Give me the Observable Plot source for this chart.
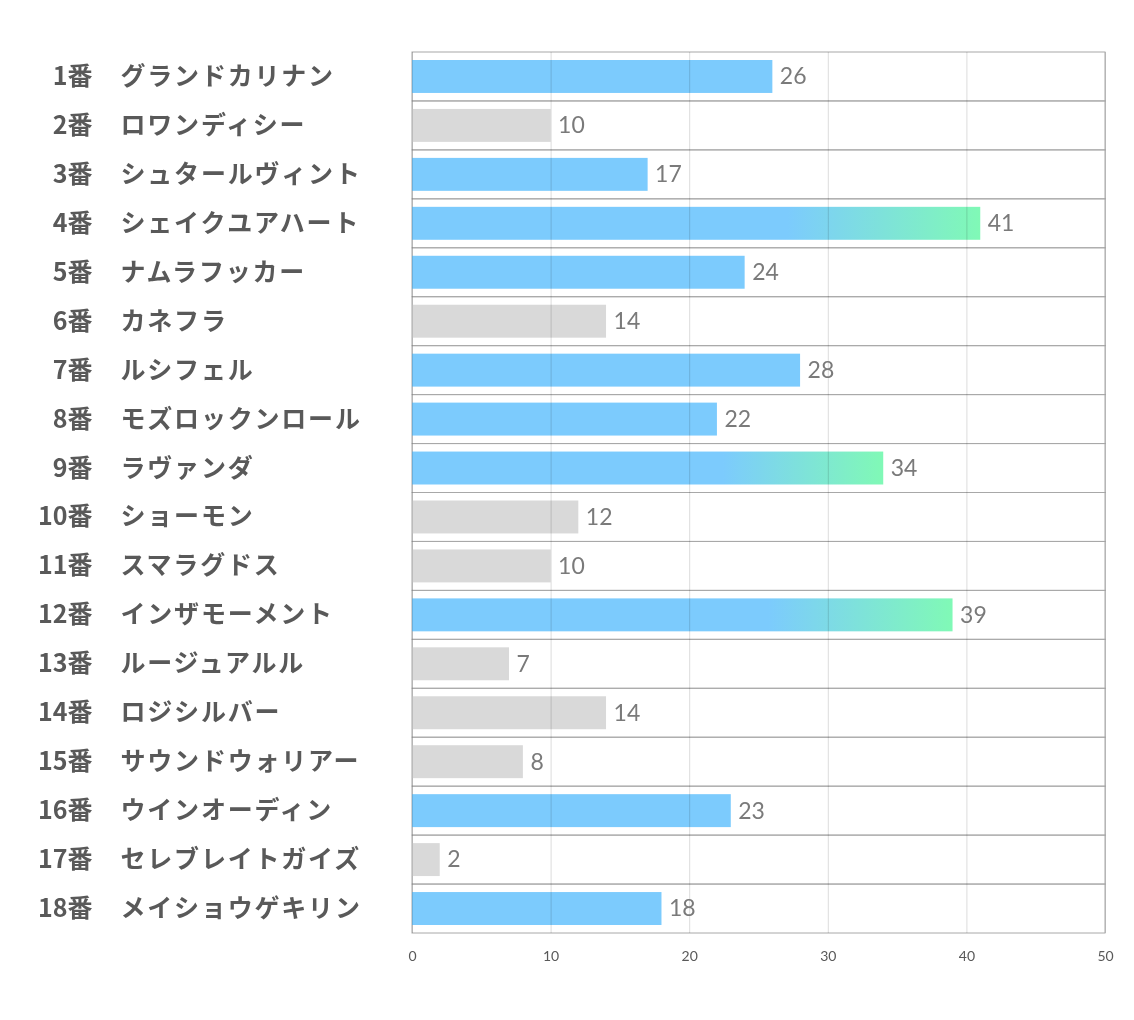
<!DOCTYPE html>
<html><head><meta charset="utf-8">
<script src="https://cdn.jsdelivr.net/npm/d3@7"></script>
<script src="https://cdn.jsdelivr.net/npm/@observablehq/plot@0.6"></script>
<style>body{margin:0;background:#fff}</style>
</head><body><div id="chart"></div>
<script>
const numbers = ["1番","2番","3番","4番","5番","6番","7番","8番","9番","10番","11番","12番","13番","14番","15番","16番","17番","18番"];
const names = ["グランドカリナン","ロワンディシー","シュタールヴィント","シェイクユアハート","ナムラフッカー","カネフラ","ルシフェル","モズロックンロール","ラヴァンダ","ショーモン","スマラグドス","インザモーメント","ルージュアルル","ロジシルバー","サウンドウォリアー","ウインオーディン","セレブレイトガイズ","メイショウゲキリン"];
const values = [26,10,17,41,24,14,28,22,34,12,10,39,7,14,8,23,2,18];
const xTicks = [0,10,20,30,40,50];

const sorted = [...values].sort((a,b)=>b-a);
const data = names.map((name,i)=>{
  const r = sorted.indexOf(values[i]);
  return {num:numbers[i], name, label:numbers[i]+" "+name, value:values[i], group: r<3?"top":r<10?"mid":"low"};
});
const jp = "'Noto Sans CJK JP', sans-serif";
const lat = "Lato, sans-serif";

const chart = Plot.plot({
  width:1134, height:1020,
  marginLeft:412, marginRight:29, marginTop:52, marginBottom:87,
  style:{fontFamily:lat, background:"#fff"},
  x:{domain:[0,50], axis:null},
  y:{domain:data.map(d=>d.label), padding:0, round:false, axis:null},
  marks:[
    Plot.barX(data,{x1:0,x2:50,y:"label",fill:"none",stroke:"#a8a8a8"}),
    Plot.barX(data.filter(d=>d.group==="low"),{x:"value",y:"label",fill:"#d9d9d9",insetTop:8,insetBottom:8}),
    Plot.barX(data.filter(d=>d.group==="mid"),{x:"value",y:"label",fill:"#7ccbfd",insetTop:8,insetBottom:8}),
    Plot.barX(data.filter(d=>d.group==="top"),{x:"value",y:"label",fill:"url(#topGrad)",insetTop:8,insetBottom:8}),
    Plot.ruleX(xTicks,{stroke:"#dcdcdc",mixBlendMode:"multiply"}),
    Plot.axisX({ticks:xTicks, tickSize:0, tickPadding:18, fontSize:14, color:"#595959", fontFamily:lat, label:null}),
    Plot.text(data,{y:"label",text:"num",frameAnchor:"left",dx:-320,textAnchor:"end",fontSize:25,fontWeight:"bold",fill:"#595959",fontFamily:jp}),
    Plot.text(data,{y:"label",text:"name",frameAnchor:"left",dx:-292,textAnchor:"start",fontSize:25,fontWeight:"bold",fill:"#595959",fontFamily:jp}),
    Plot.text(data,{x:"value",y:"label",text:d=>String(d.value),dx:7,textAnchor:"start",fontSize:23,fill:"#7a7a7a",fontFamily:lat})
  ]
});
const nameSet = new Set(names);
d3.select(chart).selectAll("text").filter(function(){ return nameSet.has(this.textContent); }).style("letter-spacing","1.8px");
const defs = d3.select(chart).insert("defs",":first-child");
const g = defs.append("linearGradient").attr("id","topGrad").attr("x1","0").attr("x2","1").attr("y1","0").attr("y2","0");
g.append("stop").attr("offset","0").attr("stop-color","#7ccbfd");
g.append("stop").attr("offset","0.66").attr("stop-color","#7ccbfd");
g.append("stop").attr("offset","1").attr("stop-color","#80f9b6");
document.getElementById("chart").appendChild(chart);
</script>
</body></html>
